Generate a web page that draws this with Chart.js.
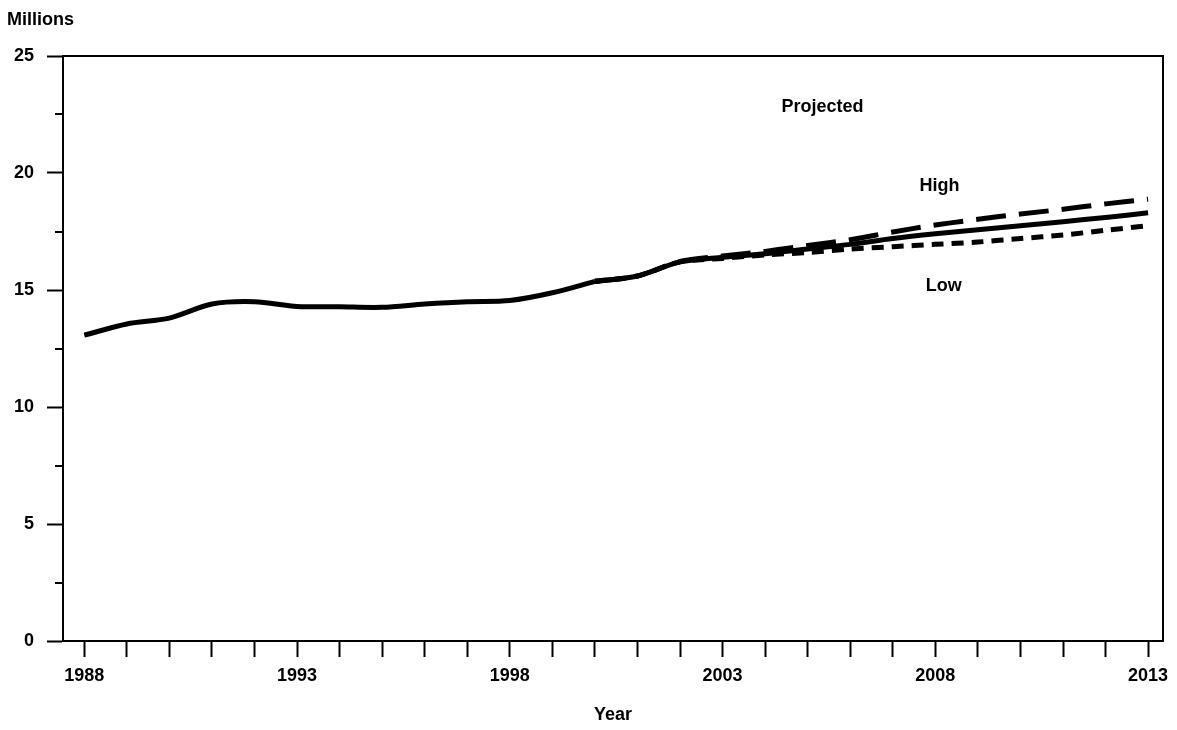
<!DOCTYPE html>
<html>
<head>
<meta charset="utf-8">
<script src="https://cdn.jsdelivr.net/npm/chart.js@4/dist/chart.umd.min.js"></script>
<style>
  body { margin: 0; background: #fff; }
  #wrap { width: 1177px; height: 730px; }
</style>
</head>
<body>
<div id="wrap"><canvas id="enrollChart" width="1177" height="730"></canvas></div>
<script>
// Actual enrollment, millions
const actualYears = [1988, 1989, 1990, 1991, 1992, 1993, 1994, 1995, 1996, 1997, 1998, 1999, 2000];
const actualValues = [13.07, 13.55, 13.8, 14.4, 14.5, 14.3, 14.28, 14.26, 14.4, 14.5, 14.55, 14.88, 15.37];

// Projections (middle, high, low)
const projYears = [2000, 2001, 2002, 2003, 2004, 2005, 2006, 2007, 2008, 2009, 2010, 2011, 2012, 2013];
const middleValues = [15.37, 15.6, 16.2, 16.4, 16.55, 16.75, 16.95, 17.2, 17.4, 17.57, 17.75, 17.92, 18.1, 18.3];
const highValues = [15.37, 15.6, 16.22, 16.45, 16.65, 16.9, 17.15, 17.48, 17.78, 18.02, 18.25, 18.45, 18.68, 18.88];
const lowValues = [15.37, 15.6, 16.2, 16.35, 16.5, 16.6, 16.75, 16.85, 16.95, 17.05, 17.2, 17.35, 17.55, 17.75];

// x tick marks every year, labels every 5
const firstYear = 1988;
const lastYear = 2013;
const yearLabels = [1988, 1993, 1998, 2003, 2008, 2013];

const FONT = "'Liberation Sans', Arial, sans-serif";

function toPoints(xs, ys) {
  return xs.map((x, i) => ({ x: x, y: ys[i] }));
}

// frame, minor ticks and text labels
const extras = {
  id: "extras",
  afterDraw(chart) {
    const ctx = chart.ctx;
    const a = chart.chartArea;
    const xs = chart.scales.x;
    const ys = chart.scales.y;
    ctx.save();
    ctx.strokeStyle = "#000";
    ctx.lineWidth = 2;
    ctx.strokeRect(a.left, a.top, a.right - a.left, a.bottom - a.top);

    // minor y ticks
    for (let v = 2.5; v < 25; v += 5) {
      const py = Math.round(ys.getPixelForValue(v));
      ctx.beginPath();
      ctx.moveTo(a.left - 8, py);
      ctx.lineTo(a.left, py);
      ctx.stroke();
    }

    ctx.fillStyle = "#000";
    ctx.font = "bold 18px " + FONT;
    ctx.textAlign = "left";
    ctx.textBaseline = "middle";
    ctx.fillText("Millions", 7, 20);

    ctx.textAlign = "center";
    ctx.fillText("Projected", xs.getPixelForValue(2005.35), ys.getPixelForValue(22.8));
    ctx.fillText("High", xs.getPixelForValue(2008.1), ys.getPixelForValue(19.45));
    ctx.fillText("Low", xs.getPixelForValue(2008.2), ys.getPixelForValue(15.15));
    ctx.restore();
  }
};

new Chart(document.getElementById("enrollChart"), {
  type: "line",
  data: {
    datasets: [
      {
        label: "Actual",
        data: toPoints(actualYears, actualValues),
        borderColor: "#000",
        borderWidth: 5,
        pointRadius: 0,
        tension: 0.3
      },
      {
        label: "High",
        data: toPoints(projYears, highValues),
        borderColor: "#000",
        borderWidth: 5,
        borderDash: [30, 13],
        pointRadius: 0,
        tension: 0.3
      },
      {
        label: "Low",
        data: toPoints(projYears, lowValues),
        borderColor: "#000",
        borderWidth: 5,
        borderDash: [12, 8],
        pointRadius: 0,
        tension: 0.3
      },
      {
        label: "Middle",
        data: toPoints(projYears, middleValues),
        borderColor: "#000",
        borderWidth: 5,
        pointRadius: 0,
        tension: 0.3
      }
    ]
  },
  options: {
    responsive: false,
    animation: false,
    layout: { padding: { top: 56, right: 14, left: 0, bottom: 0 } },
    plugins: {
      legend: { display: false },
      tooltip: { enabled: false }
    },
    scales: {
      x: {
        type: "linear",
        min: 1987.5,
        max: 2013.35,
        afterBuildTicks: (scale) => {
          const t = [];
          for (let y = firstYear; y <= lastYear; y++) t.push({ value: y });
          scale.ticks = t;
        },
        afterFit: (scale) => { scale.height = 89; },
        ticks: {
          stepSize: 1,
          autoSkip: false,
          maxRotation: 0,
          padding: 8,
          color: "#000",
          font: { family: FONT, size: 18, weight: "bold" },
          callback: (v) => yearLabels.includes(v) ? String(v) : ""
        },
        grid: { drawOnChartArea: false, tickLength: 16, tickWidth: 2, tickColor: "#000" },
        border: { color: "#000", width: 2 },
        title: {
          display: true,
          text: "Year",
          color: "#000",
          font: { family: FONT, size: 18, weight: "bold" },
          padding: { top: 16 }
        }
      },
      y: {
        min: 0,
        max: 25,
        afterFit: (scale) => { scale.width = 63; },
        ticks: {
          stepSize: 5,
          padding: 13,
          color: "#000",
          font: { family: FONT, size: 18, weight: "bold" }
        },
        grid: { drawOnChartArea: false, tickLength: 16, tickWidth: 2, tickColor: "#000" },
        border: { color: "#000", width: 2 }
      }
    }
  },
  plugins: [extras]
});
</script>
</body>
</html>
